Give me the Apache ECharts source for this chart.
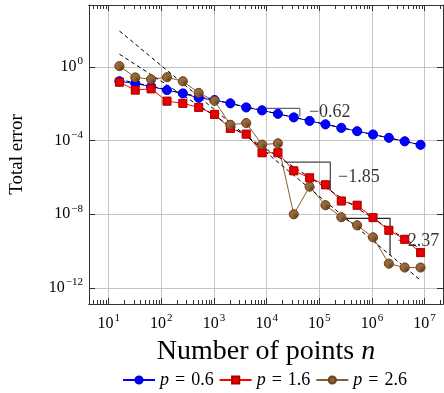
<!DOCTYPE html>
<html>
<head>
<meta charset="utf-8">
<script src="https://cdn.jsdelivr.net/npm/echarts@6/dist/echarts.min.js"></script>
<style>
  html, body { margin: 0; padding: 0; background: #fff; }
  #chart { width: 444px; height: 393px; }
</style>
</head>
<body>
<div id="chart"></div>
<script>
// Número de puntos n (eje x)
const nPoints = [16, 32, 64, 128, 256, 512, 1024, 2048, 4096, 8192, 16384, 32768,
  65536, 131072, 262144, 524288, 1048576, 2097152, 4194304, 8388608];

// Error total por serie
const errP06 = [0.166, 0.126, 0.0851, 0.0550, 0.0363, 0.0209, 0.0158, 0.0105, 6.31e-3, 4.37e-3,
  2.82e-3, 1.82e-3, 1.17e-3, 7.59e-4, 4.90e-4, 3.24e-4, 2.14e-4, 1.41e-4, 9.12e-5, 5.89e-5];
const errP16 = [0.148, 0.0550, 0.0646, 0.0138, 0.0105, 6.31e-3, 2.63e-3, 4.57e-4, 2.24e-4, 2.19e-5,
  2.19e-5, 2.29e-6, 9.55e-7, 3.98e-7, 5.25e-8, 3.09e-8, 6.61e-9, 1.35e-9, 4.37e-10, 8.32e-11];
const errP26 = [1.10, 0.269, 0.214, 0.275, 0.166, 0.0389, 0.0145, 7.24e-4, 8.91e-4, 6.03e-5,
  7.08e-5, 1.00e-8, 3.16e-7, 3.09e-8, 6.92e-9, 2.51e-9, 5.62e-10, 2.09e-11, 1.29e-11, 1.29e-11];

// Rectas de ajuste (extremos)
const fitN = [16, 8388608];
const fit062 = [0.209, 5.89e-5];
const fit185 = [4.90, 1.29e-10];
const fit237 = [89.1, 2.63e-12];

// Triángulos de pendiente
const tri062N = [8300, 42700];
const tri062E = [5.55e-3, 2.0e-3];
const tri185N = [22860, 162200];
const tri185E = [6.76e-6, 1.82e-7];
const tri237N = [311000, 2.21e6];
const tri237E = [6.03e-9, 5.75e-11];

// Etiquetas de pendiente
const slopeText = ['−0.62', '−1.85', '−2.37'];
const slopeN = [62200, 222800, 3.01e6];
const slopeE = [3.63e-3, 1.07e-6, 3.31e-10];

// Marcas de los ejes (exponentes)
const xTickExp = [1, 2, 3, 4, 5, 6, 7];
const yTickExp = [-12, -8, -4, 0];

const FONT = 'Liberation Serif';
const lg = v => Math.log10(v);
const pts = (xs, ys) => xs.map((x, i) => [lg(x), lg(ys[i])]);

// Marcas menores logarítmicas del eje x
const xMinor = [];
for (let k = 0; k <= 7; k++) {
  for (let m = 2; m <= 9; m++) xMinor.push(k + lg(m));
}

function powLabel(e) {
  return '{b|10}{s|' + String(e).replace('-', '−') + '}';
}
const powRich = {
  b: { fontSize: 16, fontFamily: FONT, color: '#000', lineHeight: 22 },
  s: { fontSize: 11, fontFamily: FONT, color: '#000', lineHeight: 12, verticalAlign: 'top', padding: [0, 0, 0, 1] }
};

// Patrón de relleno para los marcadores marrones
const pat = document.createElement('canvas');
pat.width = 4; pat.height = 4;
const pc = pat.getContext('2d');
pc.fillStyle = '#9b6a3a';
pc.fillRect(0, 0, 4, 4);
pc.fillStyle = '#5f3c1c';
pc.fillRect(0, 0, 1, 1);
pc.fillRect(2, 2, 1, 1);
pc.fillRect(2, 0, 1, 1);
pc.fillRect(0, 2, 1, 1);
const brownFill = { image: pat, repeat: 'repeat' };

const AX = '#333';
const GRID = '#c4c4c4';

function xAxisDef(pos, custom, len, labels, split) {
  return {
    type: 'value', position: pos, min: 0.626, max: 7.35,
    axisLine: { show: true, onZero: false, lineStyle: { color: AX, width: 1 } },
    axisTick: { show: true, inside: true, length: len, customValues: custom, lineStyle: { color: AX } },
    axisLabel: labels ? { show: true, customValues: xTickExp, formatter: v => powLabel(v), rich: powRich, margin: 9 } : { show: false },
    splitLine: { show: split, lineStyle: { color: GRID, width: 1 } }
  };
}
function yAxisDef(pos, labels, split) {
  return {
    type: 'value', position: pos, min: -12.87, max: 3.36,
    axisLine: { show: true, onZero: false, lineStyle: { color: AX, width: 1 } },
    axisTick: { show: true, inside: true, length: 6, customValues: yTickExp, lineStyle: { color: AX } },
    axisLabel: labels ? { show: true, customValues: yTickExp, formatter: v => powLabel(v), rich: powRich, margin: 6 } : { show: false },
    splitLine: { show: split, lineStyle: { color: GRID, width: 1 } }
  };
}

const xAxes = [
  xAxisDef('bottom', xTickExp, 6, true, true),
  xAxisDef('bottom', xMinor, 4, false, false),
  xAxisDef('top', xTickExp, 6, false, false),
  xAxisDef('top', xMinor, 4, false, false)
];
xAxes[0].name = '{r|Number of points }{i|n}';
xAxes[0].nameLocation = 'middle';
xAxes[0].nameGap = 34;
xAxes[0].nameTextStyle = {
  rich: {
    r: { fontSize: 28, fontFamily: FONT, color: '#000' },
    i: { fontSize: 28, fontFamily: FONT, fontStyle: 'italic', color: '#000' }
  }
};

const yAxes = [yAxisDef('left', true, true), yAxisDef('right', false, false)];
yAxes[0].name = 'Total error';
yAxes[0].nameLocation = 'middle';
yAxes[0].nameGap = 62;
yAxes[0].nameTextStyle = { fontSize: 19, fontFamily: FONT, color: '#000' };

const seriesDefs = [
  { name: 'p = 0.6', data: errP06, color: '#0000ff', fill: '#0000ff', border: '#0000e0', symbol: 'circle', size: 9 },
  { name: 'p = 1.6', data: errP16, color: '#ff0000', fill: '#e60000', border: '#a80000', symbol: 'rect', size: 8 },
  { name: 'p = 2.6', data: errP26, color: '#8c5c30', fill: brownFill, border: '#6b4422', symbol: 'circle', size: 9 }
];

const series = [];
// Líneas de datos
seriesDefs.forEach(s => {
  series.push({
    name: s.name, type: 'line', data: pts(nPoints, s.data),
    symbol: s.symbol, symbolSize: s.size,
    lineStyle: { color: s.color, width: 1 },
    itemStyle: { color: s.fill, borderColor: s.border, borderWidth: 0.7 },
    z: 2
  });
});
// Rectas de ajuste discontinuas
[fit062, fit185, fit237].forEach(f => {
  series.push({
    type: 'line', data: pts(fitN, f), symbol: 'none', silent: true,
    lineStyle: { color: '#000', width: 1, type: [4, 3] }, z: 3
  });
});
// Triángulos de pendiente
[[tri062N, tri062E, '#666'], [tri185N, tri185E, '#444'], [tri237N, tri237E, '#222']].forEach(t => {
  series.push({
    type: 'line', silent: true, symbol: 'none',
    data: [[lg(t[0][0]), lg(t[1][0])], [lg(t[0][1]), lg(t[1][0])], [lg(t[0][1]), lg(t[1][1])]],
    lineStyle: { color: t[2], width: 1.2 }, z: 3
  });
});
// Marcadores encima
seriesDefs.forEach(s => {
  series.push({
    type: 'scatter', data: pts(nPoints, s.data), silent: true,
    symbol: s.symbol, symbolSize: s.size,
    itemStyle: { color: s.fill, borderColor: s.border, borderWidth: 0.7, opacity: 1 },
    z: 5
  });
});
// Etiquetas de pendiente
series.push({
  type: 'scatter', silent: true, symbolSize: 1,
  itemStyle: { color: 'rgba(0,0,0,0)' },
  data: slopeText.map((t, i) => ({ name: t, value: [lg(slopeN[i]), lg(slopeE[i])] })),
  label: {
    show: true, position: 'right', distance: 0, formatter: p => p.name,
    fontSize: 18, fontFamily: FONT, color: '#000'
  },
  z: 4
});

const chart = echarts.init(document.getElementById('chart'));
chart.setOption({
  animation: false,
  grid: { left: 87, top: 5, right: 1, bottom: 89, containLabel: false },
  xAxis: xAxes,
  yAxis: yAxes,
  legend: {
    data: seriesDefs.map(s => s.name),
    left: 122, top: 371, padding: 0,
    itemWidth: 32, itemHeight: 9, itemGap: 5,
    formatter: name => name.replace('p', '{i|p}').replace(/ /g, '\u2004'),
    textStyle: {
      fontSize: 18, fontFamily: FONT, color: '#000',
      rich: { i: { fontSize: 18, fontFamily: FONT, fontStyle: 'italic', color: '#000' } }
    }
  },
  series: series
});
</script>
</body>
</html>
